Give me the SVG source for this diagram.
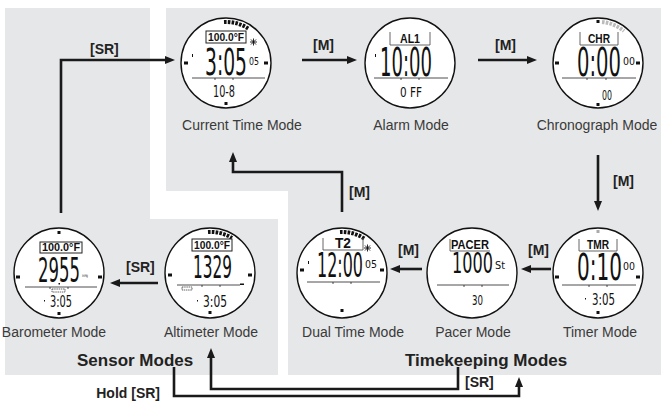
<svg xmlns="http://www.w3.org/2000/svg" width="661" height="410" viewBox="0 0 661 410">
<style>
.panel{fill:#e6e7e8}
.face{fill:#fff;stroke:#111;stroke-width:1.4}
.tick{fill:#111}
.gtick{fill:#aaa}
.lbl{font-family:"Liberation Sans",Arial,sans-serif;font-size:14px;fill:#3a3a3a;text-anchor:middle}
.key{font-family:"Liberation Sans",Arial,sans-serif;font-size:14px;font-weight:bold;fill:#222}
.grp{font-family:"Liberation Sans",Arial,sans-serif;font-size:17px;font-weight:bold;fill:#222}
.conn{fill:none;stroke:#1a1a1a;stroke-width:2.6;marker-end:url(#ah)}
.lcd{font-family:"DejaVu Sans",sans-serif;fill:#111}
.boxt{font-family:"Liberation Sans",Arial,sans-serif;font-weight:bold;fill:#111}
.box{fill:#fff;stroke:#222;stroke-width:1}
.ul{fill:none;stroke:#555;stroke-width:0.9}
.dash{fill:none;stroke:#111;stroke-width:4;stroke-dasharray:2.6 1.2}
.gdash{fill:none;stroke:#bbb;stroke-width:4;stroke-dasharray:2.6 1.2}
.rule{fill:none;stroke:#222;stroke-width:0.8}
.sun{fill:none;stroke:#111;stroke-width:0.9}
</style>
<defs>
<marker id="ah" viewBox="0 0 10 8" markerWidth="10" markerHeight="8" markerUnits="userSpaceOnUse" refX="2" refY="4" orient="auto">
<path d="M0,0 L10,4 L0,8 z" fill="#1a1a1a"/>
</marker>
</defs>

<g id="panels">
<path class="panel" d="M5,8 H150 V219 H278 V375 H5 Z"/>
<path class="panel" d="M166,8 H661 V375 H288 V191 H166 Z"/>
</g>

<g id="connectors">
<path class="conn" d="M61,213 V60 H167"/>
<path class="conn" d="M302,60 H349"/>
<path class="conn" d="M478,60 H529"/>
<path class="conn" d="M598,155 V203"/>
<path class="conn" d="M551,269 H529"/>
<path class="conn" d="M422,269 H398"/>
<path class="conn" d="M342,212 V172 H233 V160"/>
<path class="conn" d="M158,283 H118"/>
<path class="conn" d="M458,367 V389 H211 V356"/>
<path class="conn" d="M174,367 V396 H519 V385"/>
<text class="key" x="90" y="54">[SR]</text>
<text class="key" x="313" y="50">[M]</text>
<text class="key" x="495" y="50">[M]</text>
<text class="key" x="613" y="186">[M]</text>
<text class="key" x="528" y="255">[M]</text>
<text class="key" x="398" y="255">[M]</text>
<text class="key" x="349" y="197">[M]</text>
<text class="key" x="126" y="272">[SR]</text>
<text class="key" x="465" y="387">[SR]</text>
<text class="key" x="160" y="398" text-anchor="end">Hold  [SR]</text>
</g>

<g id="group-labels">
<text class="grp" x="77" y="366">Sensor Modes</text>
<text class="grp" x="405" y="366">Timekeeping Modes</text>
</g>

<g id="current-time">
<g transform="translate(226,63)">
<circle class="face" r="45"/>
<path class="dash" d="M-2,-41 A41,41 0 0 1 23,-34"/>
<rect class="box" x="-20" y="-32" width="40" height="12"/>
<text class="boxt" x="0" y="-22.5" font-size="11" text-anchor="middle" textLength="36" lengthAdjust="spacingAndGlyphs">100.0°F</text>
<path class="sun" d="M24,-21 h7 M27.5,-24.5 v7 M25,-23.5 l5,5 M30,-23.5 l-5,5"/>
<rect class="tick" x="-34" y="-9" width="1" height="3"/>
<text class="lcd" x="-21" y="12" font-size="38" textLength="42" lengthAdjust="spacingAndGlyphs">3:05</text>
<text class="lcd" x="23" y="2" font-size="11" textLength="10" lengthAdjust="spacingAndGlyphs">05</text>
<rect class="tick" x="-42" y="-1.5" width="4" height="3"/>
<rect class="tick" x="38" y="-1.5" width="4" height="3"/>
<path class="rule" d="M-34,15 H39 M-11,15 v2 M7,15 v2"/>
<text class="lcd" x="-2" y="34" font-size="16" text-anchor="middle" textLength="22" lengthAdjust="spacingAndGlyphs">10-8</text>
<rect class="tick" x="-1.5" y="39" width="3" height="3"/>
</g>
<text class="lbl" x="242" y="130">Current Time Mode</text>
</g>

<g id="alarm">
<g transform="translate(410,63)">
<circle class="face" r="45"/>
<path class="ul" d="M-20,-31 V-18 H20 V-31"/>
<text class="boxt" x="0" y="-20" font-size="13" text-anchor="middle" textLength="20" lengthAdjust="spacingAndGlyphs">AL1</text>
<rect class="tick" x="-35" y="-9" width="1" height="3"/>
<text class="lcd" x="-30" y="13" font-size="39" textLength="52" lengthAdjust="spacingAndGlyphs">10:00</text>
<path class="rule" d="M-36,15 H38 M-9,15 v2 M9,15 v2"/>
<text class="lcd" x="1" y="34" font-size="14" text-anchor="middle" textLength="22" lengthAdjust="spacingAndGlyphs">0 FF</text>
</g>
<text class="lbl" x="411" y="130">Alarm Mode</text>
</g>

<g id="chronograph">
<g transform="translate(598,63)">
<circle class="face" r="45"/>
<rect class="tick" x="-1.5" y="-43" width="3" height="3"/>
<path class="gdash" d="M4,-41 A41,41 0 0 1 26,-32"/>
<path class="ul" d="M-18,-31 V-18 H20 V-31"/>
<text class="boxt" x="1" y="-20" font-size="13" text-anchor="middle" textLength="22" lengthAdjust="spacingAndGlyphs">CHR</text>
<text class="lcd" x="-21" y="13" font-size="39" textLength="44" lengthAdjust="spacingAndGlyphs">0:00</text>
<text class="lcd" x="25" y="2" font-size="11" textLength="12" lengthAdjust="spacingAndGlyphs">00</text>
<rect class="tick" x="-43" y="-1.5" width="4" height="3"/>
<rect class="tick" x="38" y="-1.5" width="4" height="3"/>
<path class="rule" d="M-36,15 H38 M-11,15 v2 M8,15 v2"/>
<text class="lcd" x="9" y="37" font-size="14" text-anchor="middle" textLength="10" lengthAdjust="spacingAndGlyphs">00</text>
<rect class="tick" x="-1.5" y="40" width="3" height="3"/>
</g>
<text class="lbl" x="597" y="130">Chronograph Mode</text>
</g>

<g id="timer">
<g transform="translate(598,273)">
<circle class="face" r="45"/>
<rect class="gtick" x="-1.5" y="-43" width="3" height="3"/>
<path class="ul" d="M-19,-34 V-22 H19 V-34"/>
<text class="boxt" x="0" y="-24" font-size="13" text-anchor="middle" textLength="22" lengthAdjust="spacingAndGlyphs">TMR</text>
<text class="lcd" x="-21" y="7" font-size="38" textLength="45" lengthAdjust="spacingAndGlyphs">0:10</text>
<text class="lcd" x="25" y="-3" font-size="11" textLength="12" lengthAdjust="spacingAndGlyphs">00</text>
<rect class="tick" x="-43" y="2.5" width="4" height="3"/>
<rect class="tick" x="38" y="2.5" width="4" height="3"/>
<path class="rule" d="M-36,12 H38 M-9,12 v2 M9,12 v2"/>
<rect class="tick" x="-13" y="25" width="1" height="1.5"/>
<text class="lcd" x="5.5" y="32" font-size="15" text-anchor="middle" textLength="23" lengthAdjust="spacingAndGlyphs">3:05</text>
<rect class="tick" x="-1.5" y="38" width="3" height="3"/>
</g>
<text class="lbl" x="600" y="337">Timer Mode</text>
</g>

<g id="pacer">
<g transform="translate(472,273)">
<circle class="face" r="45"/>
<path class="ul" d="M-22,-34 V-22 H18"/>
<text class="boxt" x="-2" y="-24" font-size="12" text-anchor="middle" textLength="38" lengthAdjust="spacingAndGlyphs">PACER</text>
<text class="lcd" x="-20" y="0" font-size="28" textLength="41" lengthAdjust="spacingAndGlyphs">1000</text>
<text class="lcd" x="23" y="-4" font-size="10" textLength="10" lengthAdjust="spacingAndGlyphs">St</text>
<path class="rule" d="M-35,12 H37 M-8,12 v2 M10,12 v2"/>
<text class="lcd" x="5.5" y="32" font-size="14" text-anchor="middle" textLength="11" lengthAdjust="spacingAndGlyphs">30</text>
</g>
<text class="lbl" x="473" y="337">Pacer Mode</text>
</g>

<g id="dual-time">
<g transform="translate(342,273)">
<circle class="face" r="45"/>
<path class="dash" d="M-2,-41 A41,41 0 0 1 23,-34"/>
<path class="ul" d="M-19,-35 V-23 H21 V-35"/>
<text class="boxt" x="1" y="-25" font-size="14" text-anchor="middle" textLength="16" lengthAdjust="spacingAndGlyphs">T2</text>
<path class="sun" d="M22,-25 h7 M25.5,-28.5 v7 M23,-27.5 l5,5 M28,-27.5 l-5,5"/>
<rect class="tick" x="-34" y="-12" width="1" height="3"/>
<text class="lcd" x="-25" y="4" font-size="33" textLength="46" lengthAdjust="spacingAndGlyphs">12:00</text>
<text class="lcd" x="23" y="-5" font-size="11" textLength="12" lengthAdjust="spacingAndGlyphs">05</text>
<rect class="tick" x="-42" y="-4.5" width="4" height="3"/>
<rect class="tick" x="38" y="-4.5" width="4" height="3"/>
<path class="rule" d="M-35,9 H38 M-9,9 v2 M9,9 v2"/>
<rect class="tick" x="-1.5" y="36" width="3" height="3"/>
</g>
<text class="lbl" x="353" y="337">Dual Time Mode</text>
</g>

<g id="altimeter">
<g transform="translate(210,273)">
<circle class="face" r="45"/>
<path class="dash" d="M-2,-41 A41,41 0 0 1 22,-35"/>
<rect class="box" x="-18" y="-34" width="40" height="12"/>
<text class="boxt" x="2" y="-24.5" font-size="11" text-anchor="middle" textLength="36" lengthAdjust="spacingAndGlyphs">100.0°F</text>
<text class="lcd" x="-17" y="5" font-size="32" textLength="39" lengthAdjust="spacingAndGlyphs">1329</text>
<rect class="tick" x="-42" y="0.5" width="4" height="3"/>
<rect class="tick" x="38" y="0.5" width="4" height="3"/>
<path class="rule" d="M-33,12 H30 M-8,12 v2 M10,12 v2"/>
<rect class="tick" x="30" y="10.5" width="4" height="1.5"/>
<rect x="-28" y="14" width="10" height="3" fill="none" stroke="#222" stroke-width="0.7" stroke-dasharray="1.5 0.7"/>
<rect class="tick" x="-13" y="27" width="1" height="1.5"/>
<text class="lcd" x="5" y="34" font-size="15" text-anchor="middle" textLength="24" lengthAdjust="spacingAndGlyphs">3:05</text>
<rect class="tick" x="-1.5" y="38" width="3" height="3"/>
</g>
<text class="lbl" x="211" y="337">Altimeter Mode</text>
</g>

<g id="barometer">
<g transform="translate(59,273)">
<circle class="face" r="45"/>
<rect class="tick" x="-1.5" y="-42" width="3" height="3"/>
<rect class="box" x="-19" y="-31" width="42" height="11"/>
<text class="boxt" x="2" y="-22" font-size="11" text-anchor="middle" textLength="38" lengthAdjust="spacingAndGlyphs">100.0°F</text>
<text class="lcd" x="-21" y="9" font-size="34" textLength="42" lengthAdjust="spacingAndGlyphs">2955</text>
<rect class="tick" x="-0.5" y="10" width="1.5" height="1.5"/>
<text class="lcd" x="23" y="4" font-size="4" textLength="6" lengthAdjust="spacingAndGlyphs">inHg</text>
<rect class="tick" x="-43" y="2.5" width="4" height="3"/>
<rect class="tick" x="39" y="2.5" width="4" height="3"/>
<path class="rule" d="M-34,14 H38 M-9,14 v2 M9,14 v2"/>
<rect x="-7" y="16" width="13" height="3" fill="none" stroke="#222" stroke-width="0.7" stroke-dasharray="1.5 0.7"/>
<rect class="tick" x="-15" y="27" width="1" height="1.5"/>
<text class="lcd" x="2" y="34" font-size="15" text-anchor="middle" textLength="22" lengthAdjust="spacingAndGlyphs">3:05</text>
<rect class="tick" x="-1.5" y="39" width="3" height="3"/>
</g>
<text class="lbl" x="54" y="337">Barometer Mode</text>
</g>
</svg>
